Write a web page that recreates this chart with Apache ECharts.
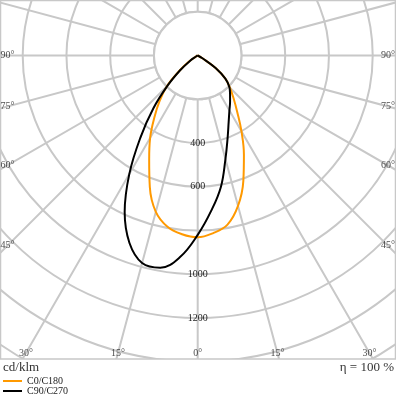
<!DOCTYPE html>
<html><head><meta charset="utf-8">
<script src="https://cdn.jsdelivr.net/npm/echarts@6/dist/echarts.min.js"></script>
<style>html,body{margin:0;padding:0;background:#fff}#c{width:396px;height:396px}</style>
</head><body><div id="c"></div>
<script>
// gamma angles (deg from nadir)
const gamma = [0,5,10,15,20,25,30,35,40,45,50,55,60,65];
// intensities cd/klm
const c0   = [831,815,785,712,610,500,400,315,255,208,165,100,25,0];  // right half of C0/C180
const c180 = [831,820,795,740,640,525,435,345,270,200,110,50,8,0];    // left half of C0/C180
const c90  = [820,712,610,490,400,335,290,258,230,205,165,100,25,0];  // right half of C90/C270
const c270 = [820,925,985,982,912,790,625,455,315,195,105,45,5,0];    // left half of C90/C270
// tick labels
const sideAngleLabels = [45,60,75,90];
const bottomAngleLabels = [0,15,30];
const radiusLabels = [400,600,1000,1200];
const seriesNames = ['C0/C180','C90/C270'];

const CX = 197.7, CY = 55.5, RMAX = 1800, PXPER = 0.21875;
const FONT = 'Liberation Serif';

function loop(left, right){
  const d = [];
  for (let i = left.length-1; i >= 0; i--) d.push([left[i], gamma[i]]);
  for (let i = 1; i < right.length; i++) d.push([right[i], 360-gamma[i]]);
  return d;
}
const labelData = [];
sideAngleLabels.forEach(g => {
  const r = ((CX - 7.5) / Math.sin(g*Math.PI/180)) / PXPER;
  labelData.push({value:[r, g], name: g+'°'});
  labelData.push({value:[r, 360-g], name: g+'°'});
});
bottomAngleLabels.forEach(g => {
  const r = ((353 - CY) / Math.cos(g*Math.PI/180)) / PXPER;
  labelData.push({value:[r, g], name: g+'°'});
  if (g) labelData.push({value:[r, 360-g], name: g+'°'});
});

const chart = echarts.init(document.getElementById('c'), null, {renderer:'canvas'});
const grid = '#c8c8c8';
chart.setOption({
  animation:false,
  backgroundColor:'#fff',
  polar:{center:[CX, CY], radius: RMAX*PXPER},
  angleAxis:{type:'value', min:0, max:360, interval:15, startAngle:270, clockwise:true,
    axisLine:{show:false}, axisTick:{show:false}, axisLabel:{show:false},
    splitLine:{show:true, lineStyle:{color:grid, width:2}}},
  radiusAxis:{type:'value', min:0, max:RMAX, interval:200,
    axisLine:{show:false}, axisTick:{show:false},
    axisLabel:{show:true, margin:0, align:'center', verticalAlign:'middle',
      fontFamily:FONT, fontSize:10, color:'#222',
      formatter: v => radiusLabels.includes(v) ? String(v) : ''},
    splitLine:{show:true, lineStyle:{color:grid, width:2}}},
  legend:{show:true, orient:'vertical', left:3, top:376, height:30, padding:0, z:10, itemWidth:19, itemHeight:2, itemGap:0,
    icon:'rect', textStyle:{fontFamily:FONT, fontSize:10, color:'#222', lineHeight:10},
    data:seriesNames},
  graphic:[
    {type:'circle', z:1, shape:{cx:CX, cy:CY, r:200*PXPER}, style:{fill:'#fff', stroke:grid, lineWidth:2}},
    {type:'rect', z:5, shape:{x:0, y:359, width:396, height:37}, style:{fill:'#fff'}},
    {type:'rect', z:5, shape:{x:0.5, y:0.5, width:395, height:358.5}, style:{fill:'none', stroke:grid, lineWidth:1.5}},
    {type:'text', z:10, left:3, top:361, style:{text:'cd/klm', font:'13px "Liberation Serif"', fill:'#333'}},
    {type:'text', z:10, right:2, top:361, style:{text:'η = 100 %', font:'13px "Liberation Serif"', fill:'#333'}}
  ],
  series:[
    {name:seriesNames[0], type:'line', coordinateSystem:'polar', data:loop(c180,c0), showSymbol:false, symbol:'none',
     smooth:0.4, lineStyle:{color:'#ff9900', width:2}, itemStyle:{color:'#ff9900'}, z:3},
    {name:seriesNames[1], type:'line', coordinateSystem:'polar', data:loop(c270,c90), showSymbol:false, symbol:'none',
     smooth:0.4, lineStyle:{color:'#000', width:2}, itemStyle:{color:'#000'}, z:4},
    {type:'scatter', coordinateSystem:'polar', data:labelData, symbolSize:1, itemStyle:{color:'rgba(0,0,0,0)'}, silent:true, z:6,
     label:{show:true, position:'inside', formatter: p => p.name, fontFamily:FONT, fontSize:10, color:'#222'}}
  ]
});
</script></body></html>
